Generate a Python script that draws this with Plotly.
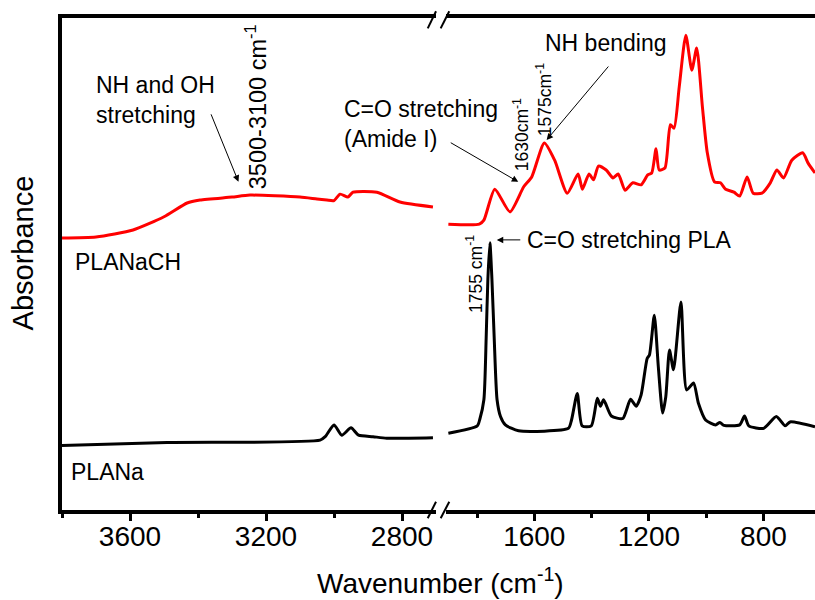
import plotly.graph_objects as go

# ---- data (wavenumber, absorbance in arbitrary units) ----
red_left_wn = [3800, 3700, 3591, 3500, 3432, 3394, 3300, 3247, 3100, 3050, 3021, 3000, 2982, 2959, 2944, 2874, 2806, 2709]
red_left_abs = [55.3, 55.5, 56.9, 59.6, 62.4, 63.0, 63.6, 64.0, 63.6, 63.2, 63.0, 62.9, 64.2, 63.6, 64.6, 64.6, 62.6, 61.6]

red_right_wn = [1900, 1792, 1776, 1738, 1685, 1637, 1609, 1565, 1529, 1485, 1447, 1432, 1409, 1393, 1376, 1349,
                1325, 1307, 1283, 1256, 1227, 1204, 1190, 1175, 1164, 1144, 1125, 1112, 1094, 1071, 1050, 1033,
                1013, 996, 971, 950, 932, 903, 883, 857, 836, 805, 776, 753, 730, 701, 663, 644, 620]
red_right_abs = [58.1, 58.1, 58.9, 65.2, 60.6, 65.7, 67.7, 74.6, 71.1, 64.4, 68.3, 65.2, 68.3, 67.1, 69.9, 69.1,
                 67.5, 68.3, 65.0, 66.5, 66.1, 68.1, 68.5, 73.4, 69.1, 69.5, 78.3, 77.6, 86.0, 96.5, 89.4, 93.9,
                 81.9, 72.6, 66.7, 66.5, 65.2, 64.6, 63.8, 67.7, 64.4, 64.4, 66.5, 69.1, 67.5, 71.1, 72.6, 70.5, 68.5]

black_left_wn = [3800, 3491, 3041, 3026, 3000, 2977, 2950, 2928, 2885, 2845, 2709]
black_left_abs = [13.1, 13.7, 14.2, 14.9, 17.3, 15.2, 16.7, 15.2, 14.9, 14.6, 14.7]

black_right_wn = [1900, 1799, 1790, 1776, 1768, 1762, 1755, 1748, 1740, 1730, 1718, 1701, 1655, 1481, 1470, 1450,
                  1433, 1401, 1380, 1369, 1358, 1331, 1291, 1264, 1244, 1227, 1206, 1198, 1181, 1167, 1152, 1141,
                  1128, 1114, 1088, 1068, 1044, 1027, 1002, 967, 952, 938, 883, 866, 851, 799, 755, 724, 707, 620]
black_right_abs = [15.6, 17.1, 18.5, 22.4, 35.0, 47.0, 54.3, 47.0, 35.0, 22.4, 19.0, 17.3, 16.1, 16.6, 18.3, 23.7,
                   17.1, 17.1, 22.7, 21.1, 22.4, 19.1, 18.6, 22.5, 21.1, 23.4, 30.8, 31.5, 39.6, 29.1, 19.7, 23.0,
                   32.5, 28.5, 42.3, 24.4, 25.8, 21.7, 18.3, 17.3, 17.8, 17.2, 17.3, 19.1, 17.1, 16.6, 19.0, 17.1, 17.9, 16.9]

left_range = [3800, 2700]
right_range = [1910, 620]

FONT = "Liberation Sans, Arial, sans-serif"
RED = "#ff0000"
BLACK = "#000000"

fig = go.Figure()
line_kw = dict(shape="spline", smoothing=0.6, width=3)
fig.add_trace(go.Scatter(x=red_left_wn, y=red_left_abs, mode="lines", line=dict(color=RED, **line_kw),
                         xaxis="x", yaxis="y", showlegend=False))
fig.add_trace(go.Scatter(x=black_left_wn, y=black_left_abs, mode="lines", line=dict(color=BLACK, **line_kw),
                         xaxis="x", yaxis="y", showlegend=False))
fig.add_trace(go.Scatter(x=red_right_wn, y=red_right_abs, mode="lines", line=dict(color=RED, **line_kw),
                         xaxis="x2", yaxis="y", showlegend=False))
fig.add_trace(go.Scatter(x=black_right_wn, y=black_right_abs, mode="lines", line=dict(color=BLACK, **line_kw),
                         xaxis="x2", yaxis="y", showlegend=False))

axis_common = dict(showline=True, linecolor="black", linewidth=3.5, mirror=True,
                   ticks="outside", ticklen=7, tickwidth=3, tickcolor="black",
                   showgrid=False, zeroline=False, ticklabelstandoff=-8,
                   tickfont=dict(family=FONT, size=28, color="black"),
                   dtick=400, tick0=0,
                   minor=dict(ticks="outside", ticklen=4, tickwidth=3, tickcolor="black", dtick=200, tick0=0, showgrid=False))

fig.update_layout(
    width=815, height=600,
    margin=dict(l=62, r=0, t=18, b=90),
    paper_bgcolor="white", plot_bgcolor="white",
    font=dict(family=FONT, color="black"),
    xaxis=dict(domain=[0, 0.4967], range=left_range, anchor="y", **axis_common),
    xaxis2=dict(domain=[0.5093, 1.0], range=right_range, anchor="y", **axis_common),
    yaxis=dict(range=[0, 100], showline=True, linecolor="black", linewidth=3.5, mirror=False,
               ticks="", showticklabels=False, showgrid=False, zeroline=False),
)

# break marks
for x0, x1 in [(0.4857, 0.4967), (0.5029, 0.5143)]:
    for yb, yt in [(-0.0169, 0.0169), (0.979, 1.0136)]:
        fig.add_shape(type="line", xref="paper", yref="paper", x0=x0, y0=yb, x1=x1, y1=yt,
                      line=dict(color="black", width=2))

ann_font = dict(family=FONT, size=23, color="black")
small_font = dict(family=FONT, size=17.5, color="black")

annotations = [
    # axis titles
    dict(text="Absorbance", xref="paper", yref="paper", x=-0.0505, y=0.5234, textangle=-90,
         showarrow=False, font=dict(family=FONT, size=29, color="black"), xanchor="center", yanchor="middle"),
    dict(text="Wavenumber (cm<sup>-1</sup>)", xref="paper", yref="paper", x=0.5033, y=-0.1443,
         showarrow=False, font=dict(family=FONT, size=28, color="black"), xanchor="center", yanchor="middle"),
    # labels
    dict(text="NH and OH<br>stretching", xref="x", yref="y", x=3706, y=83.3, align="left",
         xanchor="left", yanchor="middle", showarrow=False, font=ann_font),
    dict(text="C=O stretching<br>(Amide I)", xref="x", yref="y", x=2976, y=78.5, align="left",
         xanchor="left", yanchor="middle", showarrow=False, font=ann_font),
    dict(text="NH bending", xref="x2", yref="y", x=1353, y=94.9, xanchor="center", yanchor="middle",
         showarrow=False, font=ann_font),
    dict(text="C=O stretching PLA", xref="x2", yref="y", x=1632, y=54.9, xanchor="left", yanchor="middle",
         showarrow=False, font=ann_font),
    dict(text="PLANaCH", xref="x", yref="y", x=3768, y=50.4, xanchor="left", yanchor="middle",
         showarrow=False, font=ann_font),
    dict(text="PLANa", xref="x", yref="y", x=3779, y=7.8, xanchor="left", yanchor="middle",
         showarrow=False, font=ann_font),
    # vertical labels
    dict(text="3500-3100 cm<sup>-1</sup>", xref="x", yref="y", x=3229, y=81.9, textangle=-90,
         xanchor="center", yanchor="middle", showarrow=False, font=dict(family=FONT, size=23.5, color="black")),
    dict(text="1630cm<sup>-1</sup>", xref="x2", yref="y", x=1646, y=76.2, textangle=-90,
         xanchor="center", yanchor="middle", showarrow=False, font=small_font),
    dict(text="1575cm<sup>-1</sup>", xref="x2", yref="y", x=1566, y=83.3, textangle=-90,
         xanchor="center", yanchor="middle", showarrow=False, font=small_font),
    dict(text="1755 cm<sup>-1</sup>", xref="x2", yref="y", x=1810, y=48.0, textangle=-90,
         xanchor="center", yanchor="middle", showarrow=False, font=small_font),
]

arrow_kw = dict(text="", showarrow=True, arrowhead=2, arrowsize=1.3, arrowwidth=1, arrowcolor="black", standoff=0)
arrows = [
    dict(xref="x", yref="y", x=3281, y=66.7, ax=-28, ay=-69),
    dict(xref="x2", yref="y", x=1656, y=66.7, ax=-69, ay=-40),
    dict(xref="x2", yref="y", x=1557, y=75.2, ax=63, ay=-75),
    dict(xref="x2", yref="y", x=1731, y=54.9, ax=25, ay=0),
]
for a in arrows:
    a.update(arrow_kw)
    annotations.append(a)

fig.update_layout(annotations=annotations)

fig.write_html("out.html")
